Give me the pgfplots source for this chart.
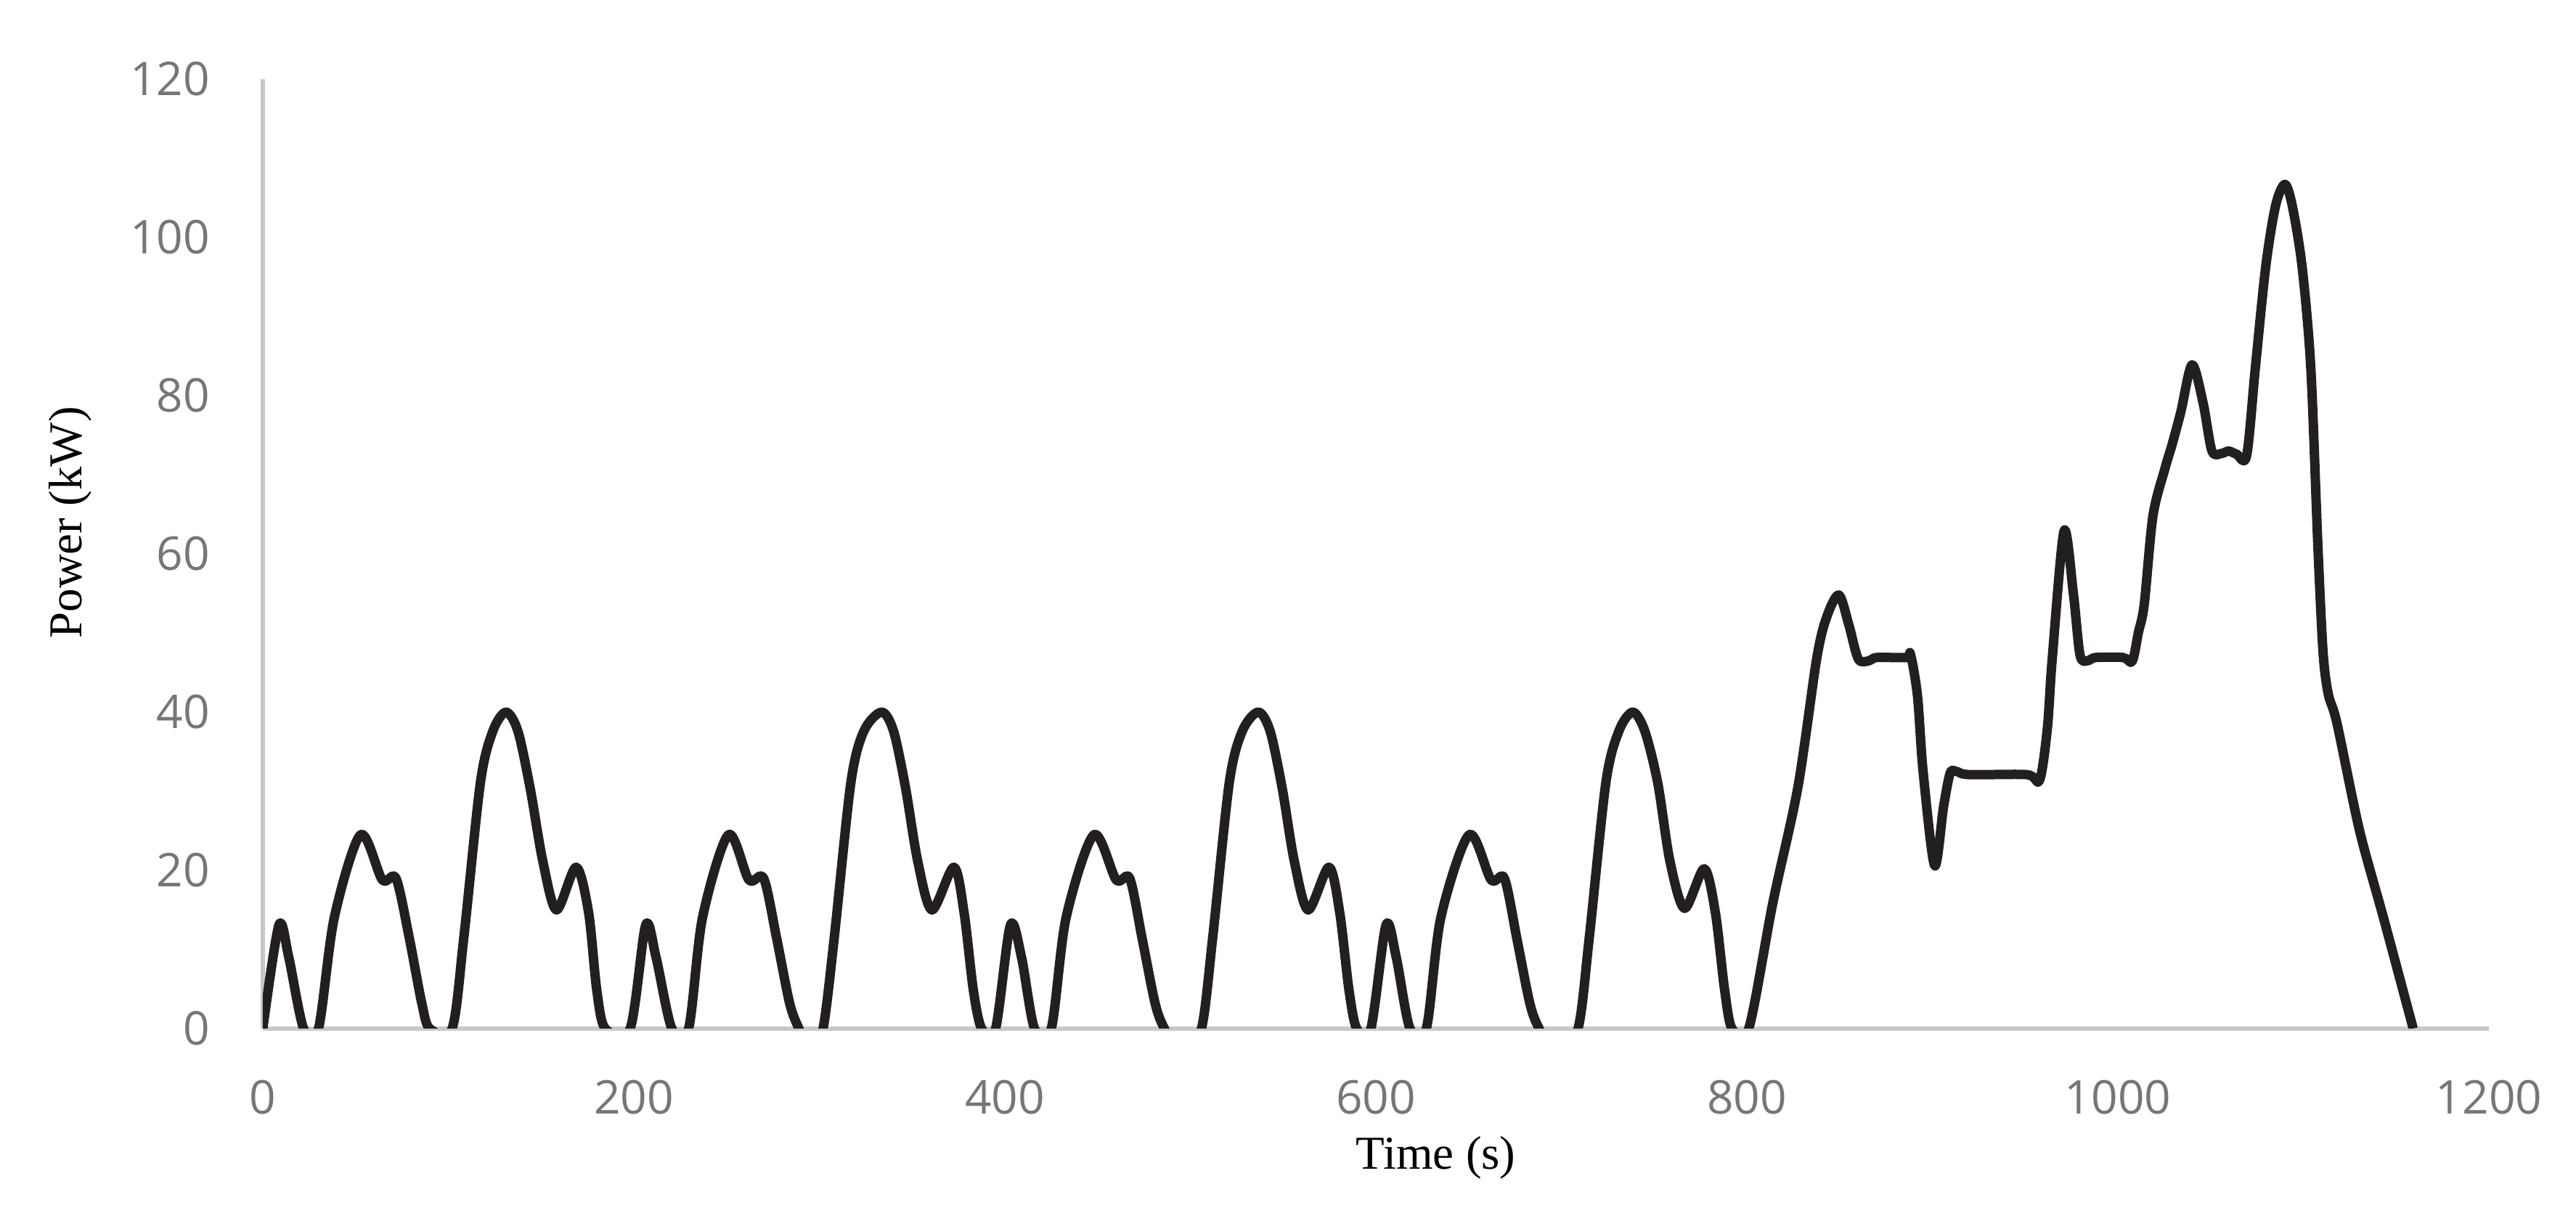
\documentclass[border=0pt]{standalone}
\usepackage{fontspec}
\setmainfont{Liberation Serif}
\newfontfamily\tickfont{Open Sans}
\usepackage{pgfplots}
\pgfplotsset{compat=1.18}
\definecolor{tickgray}{RGB}{118,118,118}
\definecolor{axgray}{RGB}{200,200,200}
\definecolor{linec}{RGB}{35,31,32}
\pgfplotstableread{
t P
0 0
8.7 13.1
14 9.0
22 0
30 0
38.5 14
52.7 24.5
64.4 18.8
71.8 19.0
79 11.4
85.7 3.2
90 0
102 0
108.3 11.4
117.3 31.1
124 37.6
131.1 40
137.5 37.6
144.1 30.4
150.9 21.2
158.3 15
168.9 20.4
175.6 14.7
180 4.9
184.6 0
198 0
206.4 13.1
212 9
220.5 0
229.5 0
237 14
251 24.5
262 18.8
270 19
277 11.4
284 3.2
289 0
295.5 -3
302 0
308 11.4
317 31.1
324 37.6
333.6 40
340 37.6
346.5 30.4
353 21.2
360.7 15
372.5 20.4
378 14.7
383 4.9
387.5 0
395 0
403 13.1
409 9
416 0
425 0
433 14
448 24.5
460 18.8
467.3 19
474 11.4
481 3.2
486 0
496 -4
506 0
512 11.4
521 31.1
528 37.6
536.6 40
543 37.6
549.5 30.4
556 21.2
563.5 15
574.7 20.4
580.5 14.7
585.5 4.9
589.7 0
597.3 0
605.5 13.1
611 9
618.4 0
627.2 0
635 14
650.3 24.5
662.1 18.8
669.3 19
676 11.4
683 3.2
688 0
698 -4
709 0
715 11.4
724 31.1
731 37.6
738.5 40
745 37.6
752 31
758.5 21.2
766.4 15.2
777 20.2
783 14.7
788 4.9
792 0
801 0
814 15.9
827.5 30.5
837.6 46.7
843 52
849.6 54.8
855 51
860.1 46.7
866 46.5
870 46.9
886 46.9
888.2 47.3
892 42
895 32.5
901.2 20.6
906 28
909.6 32.3
913 32.5
919.7 32.1
951 32.1
957.8 31.4
962 38
964.6 46.7
971 62.9
976 55
979.6 47.2
983.7 46.5
988 46.9
1002.9 46.9
1007.7 46.4
1011 50
1014.2 53.6
1018.9 64.8
1025.4 70.8
1029.2 73.8
1034 78
1040 83.9
1046 79
1050.7 73
1056 72.7
1059.7 73
1064 72.6
1069.4 72.4
1074.1 83.5
1079.7 96.3
1085 104
1090 106.7
1094 104
1099.3 96.3
1104 83.5
1107.8 61.1
1110.6 47.6
1113.4 42.3
1118.1 38.6
1130.2 25.1
1143.3 13.9
1159.2 0
}\powerdata
\begin{document}
\begin{tikzpicture}
\begin{axis}[
  scale only axis,
  width=613.2pt, height=261.6pt,
  xmin=0, xmax=1200, ymin=0, ymax=120,
  axis x line*=bottom, axis y line*=left,
  axis line style={draw=axgray, line width=1.2pt, -},
  major tick length=0pt,
  xtick={0,200,...,1200}, ytick={0,20,...,120},
  /pgf/number format/assume math mode=true,
  /pgf/number format/1000 sep={},
  tick label style={font=\tickfont\fontsize{12.8}{14}\selectfont, text=tickgray, inner sep=0pt},
  xticklabel style={anchor=north, yshift=-14pt},
  yticklabel style={anchor=east, xshift=-14.4pt},
  xlabel={Time (s)},
  ylabel={Power (kW)},
  label style={font=\fontsize{13}{15}\selectfont, text=black},
  xlabel style={at={(axis description cs:0.527,-0.136)}, anchor=center},
  ylabel style={at={(axis description cs:-0.0864,0.533)}, anchor=center, rotate=0},
]
\addplot[linec, line width=2.6pt, smooth, tension=0.5, line join=round] table[x=t, y=P] {\powerdata};
\coordinate (bl) at (rel axis cs:0,0);
\coordinate (tr) at (rel axis cs:1,1);
\end{axis}
\path (bl) ++(-72.4pt,-48.6pt) coordinate (A);
\path (tr) ++(24pt,21.8pt) coordinate (B);
\pgfresetboundingbox
\path[use as bounding box] (A) rectangle (B);
\end{tikzpicture}
\end{document}
